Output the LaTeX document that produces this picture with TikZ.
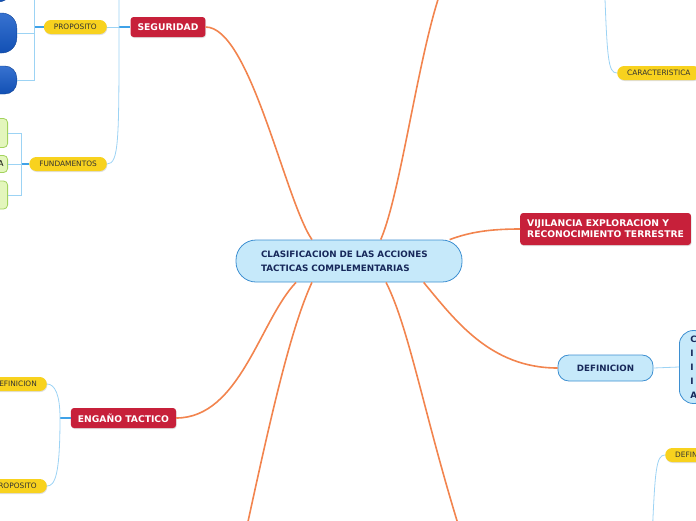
\documentclass[tikz,border=0pt]{standalone}
\usepackage{fontspec}
\setmainfont{DejaVu Sans}
\usetikzlibrary{shadows}

\definecolor{mapred}{HTML}{C7203A}
\definecolor{maporange}{HTML}{F2844E}
\definecolor{mapsky}{HTML}{C6E9FA}
\definecolor{mapskyline}{HTML}{3D8FD1}
\definecolor{mapnavy}{HTML}{17285A}
\definecolor{mapyellow}{HTML}{F8D21E}
\definecolor{maplink}{HTML}{9CD3F4}
\definecolor{mapstub}{HTML}{3FA2E8}
\definecolor{mapblue}{HTML}{1459C8}
\definecolor{mapgreen}{HTML}{E3F6BC}
\definecolor{mapgreenline}{HTML}{A3D35E}

\begin{document}
\begin{tikzpicture}
[
    x = 1pt, y = -1pt,
    central/.style={draw=mapskyline, fill=mapsky, line width=0.8pt, rounded corners=20pt, minimum height=42pt, text width=176pt, inner xsep=25pt, align=left, text=mapnavy, font=\fontsize{8.8}{14}\selectfont\bfseries},
    mainidea/.style={fill=mapred, rounded corners=3pt, text=white, inner xsep=7pt, inner ysep=0pt, minimum height=20pt, align=left, font=\fontsize{9.2}{11}\selectfont\bfseries, drop shadow={opacity=0.25, shadow xshift=0.6pt, shadow yshift=-1pt}},
    topic/.style={draw=mapskyline, fill=mapsky, line width=0.8pt, rounded corners=11pt, minimum height=26pt, inner xsep=19pt, text=mapnavy, font=\fontsize{8.7}{14}\selectfont\bfseries},
    subtopic/.style={fill=mapyellow, rounded corners=7pt, minimum height=14pt, inner xsep=10pt, inner ysep=0pt, text=black!80, font=\fontsize{7.4}{8}\selectfont, drop shadow={opacity=0.25, shadow xshift=0.5pt, shadow yshift=-1pt}},
    bluebox/.style={draw=mapblue!75!black, top color=mapblue!85!white, bottom color=mapblue!90!black, minimum width=60pt, anchor=east},
    greenbox/.style={draw=mapgreenline, fill=mapgreen, line width=0.8pt, rounded corners=4pt, minimum width=40pt, anchor=east},
    mainlink/.style={draw=maporange, line width=1.6pt},
    sublink/.style={draw=maplink, line width=0.8pt},
    stub/.style={draw=mapstub, line width=1.3pt},
]
\useasboundingbox (0,0) rectangle (696,520);
\clip (0,0) rectangle (696,520);

% central idea and main branches
\node[central] (root) at (349,261) {CLASIFICACION DE LAS ACCIONES\\TACTICAS COMPLEMENTARIAS};
\node[mainidea] (seg) at (168,27) {SEGURIDAD};
\node[mainidea] (eng) at (123.5,418) {ENGAÑO TACTICO};
\node[mainidea, minimum height=32pt, anchor=west] (vig) at (520,229) {VIJILANCIA EXPLORACION Y\\RECONOCIMIENTO TERRESTRE};
\node[topic] (def) at (605.5,368) {DEFINICION};
\node[topic, rounded corners=14pt, minimum height=73pt, inner xsep=11pt, align=left, anchor=west, font=\fontsize{8.8}{14}\selectfont\bfseries] (defbox) at (679,367) {C\\I\\I\\I\\A};

% branches running out of the frame
\coordinate (upper) at (445,-20);
\coordinate (lowleft) at (244,540);
\coordinate (lowright) at (463,540);

\draw[mainlink] (root.150) .. controls (285,200) and (250,27) .. (seg.east);
\draw[mainlink] (root.34) .. controls (402,190) and (420,40) .. (upper);
\draw[mainlink] (root.12) .. controls (470,232) and (490,229) .. (vig.west);
\draw[mainlink] (root.-16) .. controls (455,320) and (490,368) .. (def.west);
\draw[mainlink] (root.202) .. controls (260,320) and (240,418) .. (eng.east);
\draw[mainlink] (root.210) .. controls (290,330) and (270,420) .. (lowleft);
\draw[mainlink] (root.-30) .. controls (410,330) and (425,420) .. (lowright);

% SEGURIDAD
\node[subtopic, anchor=east] (prop) at (107,27) {PROPOSITO};
\node[subtopic, anchor=east] (fund) at (107,164) {FUNDAMENTOS};
\coordinate (segjoin) at (119,27);
\coordinate (segup) at (107,-110);
\draw[stub] (seg.west) -- (segjoin);
\draw[sublink] (segjoin) -- (prop.east);
\draw[sublink] (segjoin) .. controls (119,140) and (119,164) .. (fund.east);
\draw[sublink] (segjoin) .. controls (119,-90) and (119,-110) .. (segup);

\node[bluebox, minimum height=44pt, rounded corners=15pt] (bluetop) at (13,-20) {};
\node[bluebox, minimum height=40pt, rounded corners=15pt] (bluemid) at (17,33) {};
\node[bluebox, minimum height=28pt, rounded corners=12pt] (bluelow) at (17,80) {};
\coordinate (propjoin) at (34,27);
\draw[stub] (prop.west) -- (propjoin);
\draw[sublink] (propjoin) |- (bluetop.east);
\draw[sublink] (propjoin) |- (bluemid.east);
\draw[sublink] (propjoin) |- (bluelow.east);

\node[greenbox, minimum height=29pt] (greentop) at (8,133) {};
\node[greenbox, minimum height=17pt, text width=40pt, inner xsep=4pt, align=right, font=\fontsize{8}{10}\selectfont] (greenmid) at (8,164) {A};
\node[greenbox, minimum height=28pt] (greenlow) at (8,195) {};
\coordinate (fundjoin) at (21,164);
\draw[stub] (fund.west) -- (fundjoin);
\draw[sublink] (fundjoin) |- (greentop.east);
\draw[sublink] (fundjoin) -- (greenmid.east);
\draw[sublink] (fundjoin) |- (greenlow.east);

% ENGAÑO TACTICO
\node[subtopic, anchor=east] (engdef) at (47,384) {DEFINICION};
\node[subtopic, anchor=east] (engprop) at (47,486) {PROPOSITO};
\coordinate (engjoin) at (60,418);
\draw[stub] (eng.west) -- (engjoin);
\draw[sublink] (engjoin) .. controls (60,395) and (55,384) .. (engdef.east);
\draw[sublink] (engjoin) .. controls (60,475) and (55,486) .. (engprop.east);

% right side
\draw[sublink] (def.east) -- (defbox.west);
\node[subtopic, anchor=west] (carac) at (617,73) {CARACTERISTICA};
\node[subtopic, anchor=west] (vigdef) at (665,455) {DEFINICION};
\coordinate (caracup) at (604,-30);
\coordinate (vigdefdown) at (652,540);
\draw[sublink] (caracup) .. controls (607,60) and (608,73) .. (carac.west);
\draw[sublink] (vigdefdown) .. controls (655,470) and (656,455) .. (vigdef.west);
\end{tikzpicture}
\end{document}
